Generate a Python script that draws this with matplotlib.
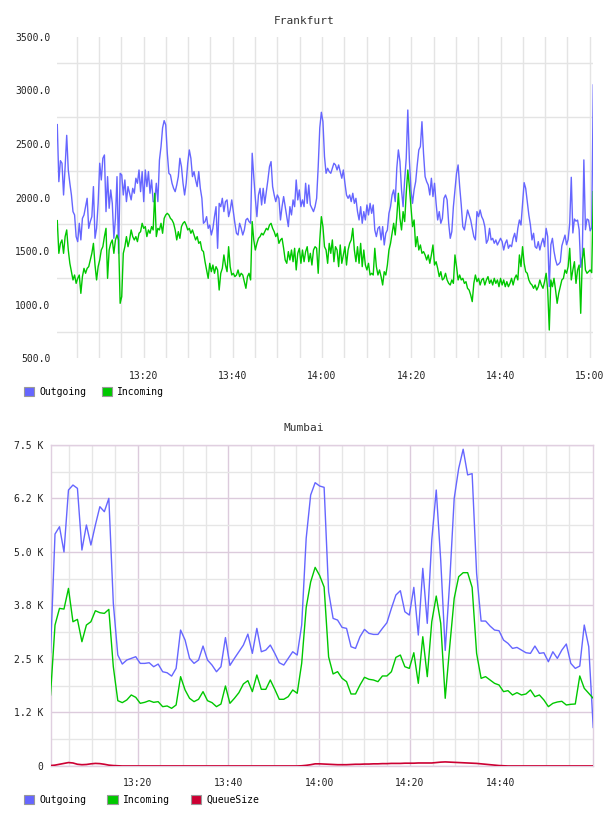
import numpy as np
import matplotlib
matplotlib.use("Agg")
import matplotlib.pyplot as plt
from matplotlib.patches import Patch
from matplotlib.ticker import FixedLocator, FuncFormatter

plt.rcParams['font.family'] = ['DejaVu Sans Mono']

# ---- Frankfurt (minutes after 13:00) ----
fra_start, fra_end = 0.67, 120.78
fra_out = [2680, 2148, 2344, 2320, 2024, 2288, 2580, 2257, 2133, 2024, 1869, 1838, 1636, 1589, 1760, 1605,
           1806, 1838, 1915, 1993, 1713, 1776, 1822, 2102, 1620, 1713, 1946, 2320, 2164, 2366, 2397, 1869,
           2195, 1900, 2071, 1946, 1620, 1806, 2195, 1480, 2226, 2211, 2024, 2164, 1962, 2102, 2040, 1978,
           2086, 2040, 2180, 2133, 2257, 2055, 2242, 1962, 2257, 2102, 2242, 2040, 2164, 1962, 1962, 2133,
           1962, 2350, 2475, 2650, 2717, 2677, 2413, 2226, 2211, 2133, 2086, 2055, 2117, 2195, 2366, 2288,
           2133, 2024, 2133, 2320, 2444, 2366, 2195, 2242, 2164, 2102, 2242, 2086, 1993, 1760, 1776, 1822,
           1713, 1744, 1651, 1713, 1822, 1915, 1527, 1946, 1915, 1993, 1869, 1962, 1978, 1822, 1884, 1978,
           1869, 1760, 1667, 1651, 1760, 1713, 1651, 1698, 1791, 1806, 1776, 1760, 2413, 2195, 1993, 1822,
           2024, 2086, 1931, 2086, 1946, 2055, 2164, 2288, 2335, 2102, 2024, 1962, 2024, 1993, 1791, 1915,
           2009, 1915, 1822, 1729, 1915, 1838, 1978, 1915, 2164, 1978, 2071, 1915, 1978, 1915, 2133, 1946,
           2117, 1931, 1900, 1869, 1915, 1993, 2288, 2650, 2795, 2708, 2382, 2226, 2273, 2242, 2226, 2273,
           2320, 2304, 2257, 2304, 2242, 2180, 2257, 2133, 2024, 1993, 2024, 1962, 2040, 1946, 1993, 1869,
           1791, 1915, 1760, 1869, 1791, 1931, 1838, 1946, 1853, 1931, 1698, 1636, 1713, 1729, 1605, 1729,
           1558, 1667, 1698, 1853, 1915, 2024, 2071, 1962, 2273, 2444, 2335, 2071, 1915, 2164, 2366, 2816,
           2350, 2071, 1946, 2071, 2148, 2304, 2444, 2475, 2707, 2413, 2195, 2148, 2117, 2024, 2180, 2009,
           2133, 1946, 1791, 1869, 1760, 1806, 1993, 2024, 1978, 1760, 1620, 1682, 1915, 2071, 2226, 2304,
           2102, 1931, 1729, 1698, 1791, 1884, 1838, 1791, 1713, 1636, 1605, 1869, 1822, 1884, 1822, 1791,
           1729, 1574, 1605, 1713, 1605, 1620, 1574, 1605, 1558, 1589, 1620, 1589, 1511, 1574, 1605, 1527,
           1558, 1542, 1620, 1667, 1589, 1713, 1791, 1744, 1946, 2139, 2086, 1962, 1838, 1744, 1605, 1667,
           1542, 1527, 1589, 1511, 1574, 1620, 1542, 1713, 1636, 1170, 1560, 1620, 1500, 1420, 1370, 1380,
           1400, 1550, 1600, 1650, 1560, 1610, 1760, 2189, 1670, 1800, 1780, 1790, 1700, 1350, 1450, 2351,
           1700, 1800, 1790, 1690, 1720, 3050]
fra_in = [1785, 1480, 1573, 1605, 1480, 1636, 1698, 1511, 1387, 1309, 1232, 1278, 1200, 1247, 1278, 1107,
          1263, 1340, 1294, 1340, 1356, 1418, 1480, 1573, 1371, 1232, 1356, 1418, 1511, 1542, 1636, 1713,
          1247, 1511, 1573, 1605, 1480, 1605, 1651, 1605, 1014, 1076, 1480, 1542, 1636, 1542, 1605, 1698,
          1636, 1605, 1636, 1589, 1667, 1682, 1760, 1713, 1729, 1636, 1698, 1667, 1729, 1698, 2040, 1636,
          1713, 1698, 1760, 1667, 1806, 1838, 1853, 1838, 1806, 1791, 1760, 1698, 1605, 1682, 1620, 1729,
          1760, 1776, 1744, 1698, 1713, 1667, 1698, 1651, 1605, 1636, 1573, 1589, 1511, 1496, 1402, 1325,
          1247, 1387, 1309, 1371, 1294, 1356, 1325, 1138, 1294, 1340, 1465, 1371, 1309, 1542, 1356, 1278,
          1294, 1263, 1278, 1325, 1263, 1294, 1278, 1216, 1154, 1263, 1294, 1232, 1776, 1605, 1511, 1573,
          1620, 1636, 1667, 1651, 1682, 1713, 1698, 1744, 1760, 1713, 1682, 1636, 1667, 1573, 1605, 1620,
          1527, 1418, 1387, 1496, 1418, 1511, 1402, 1527, 1325, 1480, 1527, 1387, 1511, 1402, 1496, 1542,
          1402, 1480, 1371, 1511, 1542, 1527, 1294, 1605, 1822, 1729, 1542, 1511, 1387, 1573, 1480, 1605,
          1402, 1542, 1511, 1356, 1558, 1387, 1465, 1542, 1371, 1511, 1573, 1605, 1713, 1511, 1402, 1542,
          1387, 1573, 1356, 1511, 1371, 1325, 1387, 1278, 1294, 1278, 1527, 1356, 1278, 1325, 1263, 1185,
          1309, 1278, 1371, 1511, 1573, 1667, 1760, 1651, 1822, 2040, 1806, 1698, 1869, 1776, 2040, 2257,
          2102, 1915, 1729, 1791, 1542, 1636, 1511, 1558, 1480, 1496, 1465, 1418, 1465, 1387, 1465, 1558,
          1371, 1402, 1340, 1263, 1309, 1232, 1247, 1294, 1232, 1200, 1185, 1232, 1200, 1465, 1356, 1232,
          1278, 1232, 1247, 1200, 1216, 1154, 1138, 1092, 1030, 1200, 1278, 1216, 1247, 1185, 1232, 1247,
          1185, 1232, 1263, 1200, 1232, 1185, 1247, 1200, 1232, 1169, 1247, 1185, 1232, 1169, 1216, 1169,
          1200, 1247, 1185, 1247, 1278, 1232, 1465, 1356, 1542, 1387, 1309, 1294, 1232, 1200, 1185, 1154,
          1185, 1138, 1169, 1232, 1185, 1154, 1216, 1294, 1138, 765, 1232, 1169, 1247, 1138, 1014, 1107,
          1169, 1232, 1247, 1325, 1294, 1356, 1527, 1232, 1325, 1402, 1200, 1325, 1371, 921, 1418, 1527,
          1325, 1294, 1309, 1325, 1300, 2055]

# ---- Mumbai (one sample per minute) ----
mum_start, mum_end = 0.83, 120.4
mum_out = [2650, 5419, 5590, 5000, 6447, 6564, 6486, 5045, 5630, 5162, 5630, 6058, 5941, 6253, 3800, 2592,
           2381, 2475, 2514, 2553, 2397, 2397, 2412, 2319, 2381, 2202, 2178, 2100, 2280, 3176, 2942, 2514,
           2397, 2475, 2802, 2475, 2358, 2202, 2319, 3000, 2350, 2514, 2669, 2825, 3082, 2631, 3215, 2669,
           2708, 2825, 2631, 2412, 2358, 2514, 2669, 2592, 3293, 5318, 6331, 6619, 6541, 6510, 4072, 3448,
           3409, 3238, 3215, 2786, 2747, 3020, 3191, 3098, 3074, 3074, 3215, 3347, 3682, 3994, 4095, 3604,
           3526, 4173, 3059, 4617, 3332, 5280, 6447, 4800, 2700, 4300, 6250, 6950, 7400, 6800, 6830, 4500,
           3386, 3386, 3269, 3176, 3160, 2942, 2864, 2747, 2770, 2708, 2646, 2631, 2802, 2631, 2646, 2436,
           2669, 2514, 2708, 2849, 2397, 2280, 2335, 3293, 2786, 900]
mum_in = [1659, 3293, 3682, 3666, 4149, 3370, 3425, 2903, 3293, 3370, 3627, 3581, 3565, 3659, 2319, 1526,
          1480, 1542, 1659, 1604, 1464, 1487, 1526, 1487, 1503, 1386, 1402, 1347, 1425, 2087, 1776, 1581,
          1503, 1558, 1737, 1526, 1480, 1386, 1448, 1869, 1464, 1581, 1713, 1916, 1994, 1737, 2126, 1791,
          1791, 2009, 1791, 1558, 1558, 1620, 1776, 1698, 2400, 3700, 4300, 4640, 4450, 4180, 2550, 2150,
          2204, 2048, 1970, 1682, 1682, 1892, 2072, 2025, 2009, 1970, 2103, 2103, 2202, 2537, 2592, 2319,
          2280, 2646, 1931, 3020, 2087, 3370, 3970, 3332, 1581, 2786, 3916, 4422, 4516, 4516, 4173, 2631,
          2048, 2087, 2009, 1931, 1892, 1737, 1760, 1659, 1713, 1659, 1682, 1776, 1620, 1659, 1542, 1386,
          1464, 1495, 1511, 1425, 1441, 1448, 2103, 1815, 1698, 1581]
mum_queue = [10, 20, 40, 60, 80, 70, 40, 30, 35, 50, 60, 55, 40, 20, 10, 5,
             0, 0, 0, 0, 0, 0, 0, 0, 0, 0, 0, 0, 0, 0, 0, 0,
             0, 0, 0, 0, 0, 0, 0, 0, 0, 0, 0, 0, 0, 0, 0, 0,
             0, 0, 0, 0, 0, 0, 0, 0, 5, 15, 30, 50, 50, 45, 40, 35,
             30, 30, 30, 35, 40, 40, 45, 45, 50, 50, 55, 55, 60, 60, 60, 65,
             65, 65, 70, 70, 70, 70, 80, 90, 95, 90, 85, 80, 75, 70, 65, 60,
             50, 40, 30, 20, 10, 5, 0, 0, 0, 0, 0, 0, 0, 0, 0, 0,
             0, 0, 0, 0, 0, 0, 0, 0, 0, 0]

BLUE = '#6666ff'
GREEN = '#00c800'
RED = '#cc0033'
TXT = '#222222'


def hhmm(v, pos=None):
    m = int(round(v))
    return '%d:%02d' % (13 + m // 60, m % 60)


def kfmt(v, pos=None):
    if v == 0:
        return '0'
    return '%.1f K' % (v / 1000.0)


fig = plt.figure(figsize=(6.08, 8.16), dpi=100)

# ---------------- Frankfurt ----------------
ax = fig.add_axes([0.0942, 0.5607, 0.8816, 0.3944])
x = np.linspace(fra_start, fra_end, len(fra_out))
ax.plot(x, fra_out, color=BLUE, lw=1.0, zorder=3)
x = np.linspace(fra_start, fra_end, len(fra_in))
ax.plot(x, fra_in, color=GREEN, lw=1.0, zorder=3)
ax.set_xlim(fra_start, fra_end)
ax.set_ylim(500, 3500)
ax.xaxis.set_major_locator(FixedLocator([20, 40, 60, 80, 100, 120]))
ax.xaxis.set_minor_locator(FixedLocator(list(range(5, 121, 5))))
ax.xaxis.set_major_formatter(FuncFormatter(hhmm))
ax.yaxis.set_major_locator(FixedLocator(list(range(500, 3501, 500))))
ax.yaxis.set_minor_locator(FixedLocator(list(range(750, 3300, 500))))
ax.yaxis.set_major_formatter(FuncFormatter(lambda v, p: '%.1f' % v))
ax.grid(True, which='both', axis='x', color='#e4e4e4', lw=1.0)
ax.grid(True, which='minor', axis='y', color='#e4e4e4', lw=1.0)
ax.set_axisbelow(True)
for s in ax.spines.values():
    s.set_visible(False)
ax.tick_params(which='both', length=0, labelsize=7, colors=TXT)
ax.tick_params(axis='x', pad=9)
ax.tick_params(axis='y', pad=5)
fig.text(0.5, 1 - 20.7 / 816, 'Frankfurt', ha='center', va='center', fontsize=8, color='#333333')
ax.legend(handles=[Patch(facecolor=BLUE, edgecolor='#999999', lw=0.8, label='Outgoing'),
                   Patch(facecolor=GREEN, edgecolor='#999999', lw=0.8, label='Incoming')],
          loc='center left', bbox_to_anchor=(0.0395, 1 - 392.3 / 816), bbox_transform=fig.transFigure,
          ncol=2, frameon=False, fontsize=7, handlelength=1.05, handleheight=1.05,
          handletextpad=0.5, columnspacing=1.6, borderpad=0, borderaxespad=0)

# ---------------- Mumbai ----------------
ax2 = fig.add_axes([0.0831, 0.0613, 0.8926, 0.3934])
x = np.linspace(mum_start, mum_end, len(mum_out))
ax2.plot(x, mum_out, color=BLUE, lw=1.0, zorder=3)
ax2.plot(x, mum_in, color=GREEN, lw=1.0, zorder=3)
ax2.plot(x, mum_queue, color=RED, lw=1.2, zorder=3)
ax2.set_xlim(mum_start, mum_end)
ax2.set_ylim(0, 7500)
ax2.xaxis.set_major_locator(FixedLocator([20, 40, 60, 80, 100]))
ax2.xaxis.set_minor_locator(FixedLocator(list(range(5, 116, 5))))
ax2.xaxis.set_major_formatter(FuncFormatter(hhmm))
ax2.yaxis.set_major_locator(FixedLocator([0, 1250, 2500, 3750, 5000, 6250, 7500]))
ax2.yaxis.set_minor_locator(FixedLocator([625, 1875, 3125, 4375, 5625, 6875]))
ax2.yaxis.set_major_formatter(FuncFormatter(kfmt))
ax2.grid(True, which='major', color='#dccbdc', lw=1.0)
ax2.grid(True, which='minor', color='#e6e6e6', lw=1.0)
ax2.set_axisbelow(True)
for s in ax2.spines.values():
    s.set_color('#e0cfe0')
    s.set_linewidth(1.0)
ax2.tick_params(which='both', length=0, labelsize=7, colors=TXT)
ax2.tick_params(axis='x', pad=9)
ax2.tick_params(axis='y', pad=5)
fig.text(0.5, 1 - 428.3 / 816, 'Mumbai', ha='center', va='center', fontsize=8, color='#333333')
ax2.legend(handles=[Patch(facecolor=BLUE, edgecolor='#999999', lw=0.8, label='Outgoing'),
                    Patch(facecolor=GREEN, edgecolor='#999999', lw=0.8, label='Incoming'),
                    Patch(facecolor=RED, edgecolor='#999999', lw=0.8, label='QueueSize')],
           loc='center left', bbox_to_anchor=(0.0395, 1 - 800 / 816), bbox_transform=fig.transFigure,
           ncol=3, frameon=False, fontsize=7, handlelength=1.05, handleheight=1.05,
           handletextpad=0.5, columnspacing=2.2, borderpad=0, borderaxespad=0)

fig.savefig('out.png', dpi=100)
